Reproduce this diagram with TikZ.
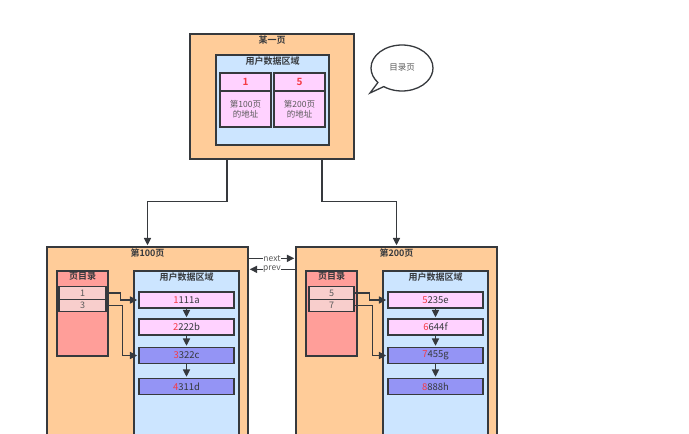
\documentclass[tikz,border=0pt]{standalone}
\usepackage{fontspec}
\setmainfont{Noto Sans CJK SC}[BoldFont={Noto Sans CJK SC Bold}]
\usetikzlibrary{arrows.meta,shapes.callouts}

\definecolor{edge}{HTML}{36393D}
\definecolor{pageorange}{HTML}{FFCC99}
\definecolor{areablue}{HTML}{CCE5FF}
\definecolor{dirred}{HTML}{FF9E99}
\definecolor{slotpink}{HTML}{F8CECC}
\definecolor{recpink}{HTML}{FFD2FF}
\definecolor{recblue}{HTML}{9494F5}
\definecolor{digitred}{HTML}{F53A45}
\definecolor{softtext}{HTML}{5A5A5A}

\begin{document}
\begin{tikzpicture}[->,>={Triangle[length=7.5pt,width=7pt]},shorten >=1pt,x=1pt,y=-1pt,line width=1.6pt,draw=edge,node distance=249pt,font=\fontsize{9}{10}\selectfont]

        \tikzstyle{box}=[draw=edge,line width=1.3pt,inner sep=0pt]
        \tikzstyle{title}=[anchor=north,inner sep=1.5pt,text=edge,font=\fontsize{9}{10}\selectfont\bfseries]
        \tikzstyle{page}=[box,fill=pageorange,minimum width=201pt,minimum height=198pt]
        \tikzstyle{area}=[box,fill=areablue,minimum width=105pt,minimum height=174pt]
        \tikzstyle{dir}=[box,fill=dirred,minimum width=51pt,minimum height=85pt]
        \tikzstyle{slot}=[box,fill=slotpink,minimum width=47pt,minimum height=12.5pt,text=softtext]
        \tikzstyle{rec}=[box,minimum width=95pt,minimum height=16pt,text=edge,font=\fontsize{9.5}{11}\selectfont]
        \tikzstyle{cell}=[box,fill=recpink,minimum width=51pt]

        \useasboundingbox (0,0) rectangle (689,434);
        \clip (0,0) rectangle (689,433);

        % top page
        \node[box,fill=pageorange,minimum width=164pt,minimum height=125pt,label={[title]north:某一页}] (top) at (272,96.5) {};
        \node[box,fill=areablue,minimum width=113pt,minimum height=90pt,label={[title]north:用户数据区域}] (topdata) at (272.5,100) {};
        \node[cell,minimum height=18pt,text=digitred,font=\bfseries] (h1) at (245.5,82) {1};
        \node[cell,minimum height=36pt,text=softtext,align=center,font=\fontsize{8.5}{10.5}\selectfont] (a1) at (245.5,109) {第100页\\的地址};
        \node[cell,minimum height=18pt,text=digitred,font=\bfseries] (h5) at (299.5,82) {5};
        \node[cell,minimum height=36pt,text=softtext,align=center,font=\fontsize{8.5}{10.5}\selectfont] (a5) at (299.5,109) {第200页\\的地址};

        \node[ellipse callout,draw=edge,fill=white,line width=1.3pt,minimum width=62pt,minimum height=46pt,callout absolute pointer={(370,93)},text=softtext,font=\fontsize{8.5}{10}\selectfont] (bubble) at (402,68) {目录页};

        % page 100
        \node[page,label={[title]north:第100页}] (p100) at (147.5,346) {};
        \node[dir,label={[title]north:页目录}] (dir100) at (82.5,313.5) {};
        \node[slot] (s1) at (82.5,293) {1};
        \node[slot] (s3) at (82.5,305.5) {3};
        \node[area,label={[title]north:用户数据区域}] (data100) at (186.5,358) {};
        \node[rec,fill=recpink] (r1) at (186.5,300) {{\color{digitred}1}111a};
        \node[rec,fill=recpink] (r2) at (186.5,327) {{\color{digitred}2}222b};
        \node[rec,fill=recblue] (r3) at (186.5,355.5) {{\color{digitred}3}322c};
        \node[rec,fill=recblue] (r4) at (186.5,386.5) {{\color{digitred}4}311d};

        % page 200
        \node[page,label={[title]north:第200页}] (p200) [right of=p100] {};
        \node[dir,label={[title]north:页目录}] (dir200) [right of=dir100] {};
        \node[slot,minimum width=45pt] (s5) [right of=s1] {5};
        \node[slot,minimum width=45pt] (s7) [right of=s3] {7};
        \node[area,label={[title]north:用户数据区域}] (data200) [right of=data100] {};
        \node[rec,fill=recpink] (r5) [right of=r1] {{\color{digitred}5}235e};
        \node[rec,fill=recpink] (r6) [right of=r2] {{\color{digitred}6}644f};
        \node[rec,fill=recblue] (r7) [right of=r3] {{\color{digitred}7}455g};
        \node[rec,fill=recblue] (r8) [right of=r4] {{\color{digitred}8}888h};

        \draw ([xshift=-45pt]top.south) -- ++(0,42) -| (p100.north);
        \draw ([xshift=50pt]top.south) -- ++(0,42) -| (p200.north);

        \draw ([yshift=-12pt]p100.north east) -- node[fill=white,inner sep=0.5pt,text=softtext,font=\fontsize{8.5}{9}\selectfont] {next} ([yshift=-12pt]p200.north west);
        \draw ([yshift=-23pt]p200.north west) -- node[fill=white,inner sep=0.5pt,text=softtext,font=\fontsize{8.5}{9}\selectfont] {prev} ([yshift=-23pt]p100.north east);

        \path (r1) edge (r2)
        (r2) edge (r3)
        (r3) edge (r4)
        (r5) edge (r6)
        (r6) edge (r7)
        (r7) edge (r8)
    ;
        \draw (s1.east) -- ++(14,0) |- (r1.west);
        \draw (s3.east) -- ++(16,0) |- (r3.west);
        \draw (s5.east) -- ++(15,0) |- (r5.west);
        \draw (s7.east) -- ++(18,0) |- (r7.west);
    \end{tikzpicture}
\end{document}
